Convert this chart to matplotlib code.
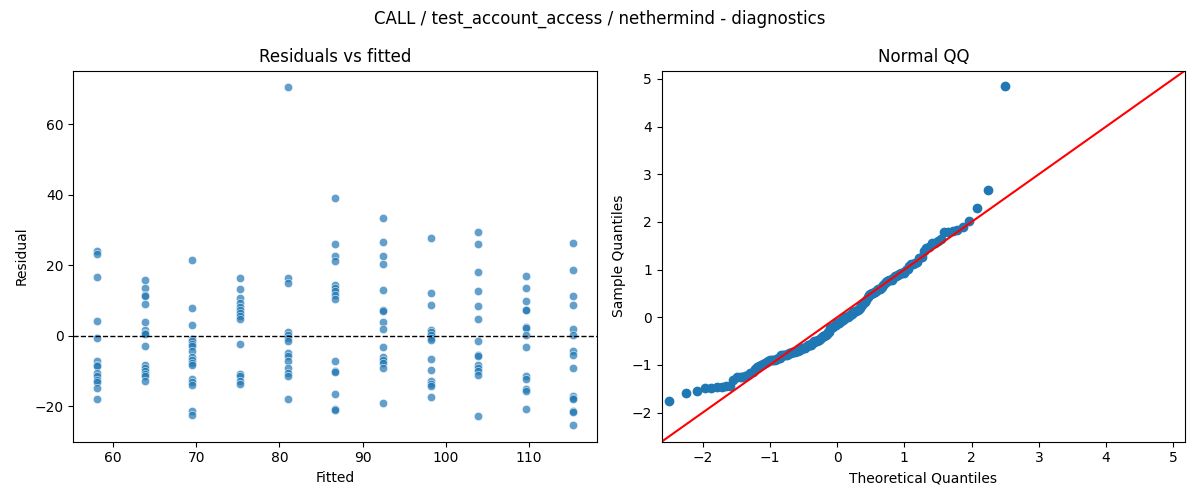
from statistics import NormalDist
import matplotlib
matplotlib.use('Agg')
import matplotlib.pyplot as plt
import numpy as np
import pandas as pd
import seaborn as sns

# fitted value of each group
fitted_levels = [58.1, 63.8, 69.5, 75.3, 81.0, 86.7, 92.4, 98.2, 103.9, 109.6, 115.3]

# residuals of each group
res_g1 = [24.1, 23.2, 16.6, 4.3, -0.5, -7.1, -8.4, -8.7, -10.6, -11.3, -12.7, -13.0, -14.8, -18.1]
res_g2 = [15.8, 13.7, 11.6, 11.2, 9.0, 3.9, 1.7, 0.9, 0.5, -2.9, -8.4, -9.2, -10.1, -10.8, -11.5, -12.9]
res_g3 = [21.5, 7.8, 3.0, -0.9, -1.6, -2.3, -3.0, -4.4, -6.1, -6.8, -7.6, -8.2, -12.3, -13.1, -14.1, -21.5, -22.4]
res_g4 = [16.4, 13.2, 10.7, 9.3, 8.1, 7.4, 6.4, 5.5, 4.7, -2.4, -10.9, -11.3, -12.8, -13.6]
res_g5 = [70.5, 16.4, 14.9, 1.2, 0.1, -0.7, -1.6, -4.9, -5.7, -7.1, -9.2, -10.6, -11.5, -18.1]
res_g6 = [39.0, 26.0, 22.7, 21.3, 14.5, 13.5, 12.6, 11.6, 10.4, -7.1, -10.1, -10.4, -16.5, -20.7, -21.2]
res_g7 = [33.4, 26.6, 22.7, 20.3, 12.9, 7.2, 6.9, 3.9, 1.9, -3.2, -5.9, -6.8, -7.8, -9.2, -19.1]
res_g8 = [27.7, 12.1, 8.7, 1.7, 1.0, 0.1, -0.7, -1.3, -6.6, -9.8, -12.9, -13.7, -14.4, -17.4]
res_g9 = [29.4, 26.0, 18.1, 12.7, 8.4, 4.7, -1.5, -5.4, -5.7, -8.2, -9.2, -10.1, -11.1, -22.9]
res_g10 = [16.9, 13.5, 9.8, 7.4, 7.2, 2.6, 2.2, 0.3, -3.2, -11.5, -12.3, -15.1, -15.7, -20.8]
res_g11 = [26.3, 18.6, 11.4, 8.7, 2.0, 0.3, -4.4, -5.4, -9.2, -17.0, -17.7, -18.1, -21.3, -21.6, -25.3]

groups = [res_g1, res_g2, res_g3, res_g4, res_g5, res_g6,
          res_g7, res_g8, res_g9, res_g10, res_g11]

rows = []
for f, g in zip(fitted_levels, groups):
    for r in g:
        rows.append({'fitted': f, 'resid': r})
df = pd.DataFrame(rows)

# QQ: standardised residuals against normal quantiles
resid = np.sort(df['resid'].to_numpy())
n = len(resid)
sample_q = (resid - resid.mean()) / resid.std(ddof=1)
nd = NormalDist()
theo_q = np.array([nd.inv_cdf(i / (n + 1)) for i in range(1, n + 1)])

fig, axes = plt.subplots(1, 2, figsize=(12, 5), dpi=100)

ax = axes[0]
sns.scatterplot(data=df, x='fitted', y='resid', ax=ax, alpha=0.7)
ax.axhline(0, color='black', linestyle='--', linewidth=1)
ax.set_title('Residuals vs fitted')
ax.set_xlabel('Fitted')
ax.set_ylabel('Residual')

ax = axes[1]
ax.plot(theo_q, sample_q, marker='o', linestyle='none', color='#1f77b4')
# 45 degree line over the shared range seen in the reference
lo, hi = -2.61, max(ax.get_xlim()[1], ax.get_ylim()[1])
ax.plot([lo, hi], [lo, hi], 'r')
ax.set_xlim(lo, hi)
ax.set_ylim(lo, hi)
ax.set_title('Normal QQ')
ax.set_xlabel('Theoretical Quantiles')
ax.set_ylabel('Sample Quantiles')

fig.suptitle('CALL / test_account_access / nethermind - diagnostics')
fig.tight_layout()
fig.savefig('out.png')
